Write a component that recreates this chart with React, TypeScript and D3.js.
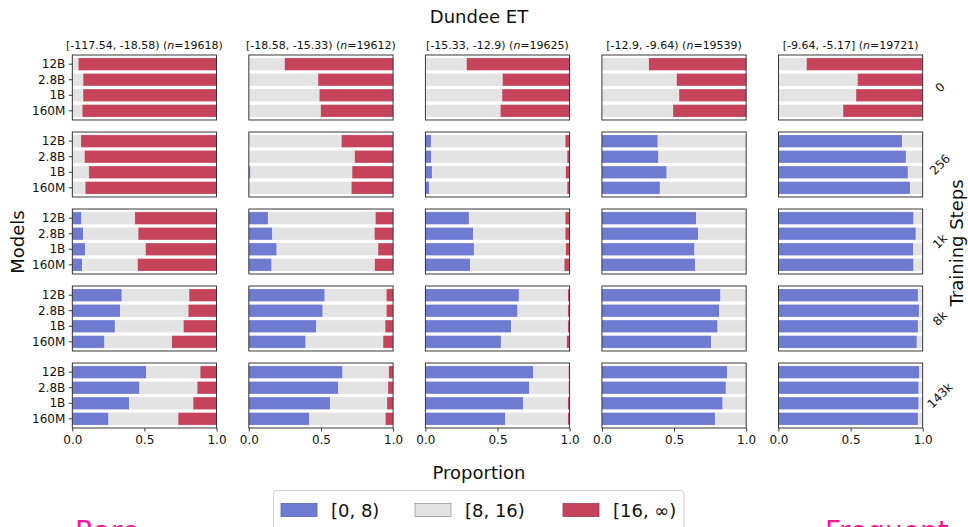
import * as d3 from "d3";
import { useEffect, useRef } from "react";

// facets: rows = training steps, columns = surprisal bins
const models = ["12B", "2.8B", "1B", "160M"];
const steps = ["0", "256", "1k", "8k", "143k"];
const binRanges = ["[-117.54, -18.58)", "[-18.58, -15.33)", "[-15.33, -12.9)", "[-12.9, -9.64)", "[-9.64, -5.17]"];
const binCounts = [19618, 19612, 19625, 19539, 19721];
const segments = ["[0, 8)", "[8, 16)", "[16, \u221e)"];
const segmentColors = ["#6e7bd0", "#e3e3e3", "#c5445c"];
const segmentEdges = ["#5a66b8", "#9a9a9a", "#a83a4f"];
const xTicks = [0, 0.5, 1];

// share[step][bin][model], models ordered 12B, 2.8B, 1B, 160M
const shareShort = [
  [[0, 0, 0, 0], [0, 0, 0, 0], [0, 0, 0, 0], [0, 0, 0, 0], [0, 0, 0, 0]],
  [[0, 0, 0.007, 0.003], [0, 0.003, 0.012, 0.005], [0.04, 0.042, 0.047, 0.027], [0.388, 0.393, 0.45, 0.403], [0.858, 0.885, 0.898, 0.913]],
  [[0.065, 0.076, 0.09, 0.069], [0.134, 0.164, 0.194, 0.159], [0.303, 0.333, 0.338, 0.311], [0.655, 0.668, 0.643, 0.648], [0.938, 0.953, 0.935, 0.938]],
  [[0.344, 0.333, 0.296, 0.224], [0.527, 0.513, 0.469, 0.395], [0.649, 0.64, 0.595, 0.525], [0.823, 0.815, 0.803, 0.758], [0.968, 0.975, 0.968, 0.96]],
  [[0.513, 0.467, 0.395, 0.252], [0.651, 0.621, 0.564, 0.42], [0.749, 0.721, 0.679, 0.555], [0.87, 0.86, 0.838, 0.785], [0.978, 0.973, 0.973, 0.968]],
];
const shareMid = [
  [[0.042, 0.075, 0.075, 0.069], [0.248, 0.48, 0.489, 0.498], [0.286, 0.535, 0.532, 0.52], [0.325, 0.518, 0.535, 0.493], [0.195, 0.548, 0.538, 0.448]],
  [[0.06, 0.085, 0.108, 0.087], [0.642, 0.731, 0.704, 0.706], [0.93, 0.941, 0.926, 0.956], [0.612, 0.607, 0.55, 0.597], [0.142, 0.115, 0.102, 0.087]],
  [[0.369, 0.381, 0.418, 0.384], [0.744, 0.707, 0.702, 0.714], [0.667, 0.637, 0.635, 0.652], [0.345, 0.332, 0.357, 0.352], [0.062, 0.047, 0.065, 0.062]],
  [[0.466, 0.471, 0.475, 0.466], [0.427, 0.441, 0.476, 0.536], [0.339, 0.348, 0.393, 0.455], [0.177, 0.185, 0.197, 0.242], [0.032, 0.025, 0.032, 0.04]],
  [[0.374, 0.399, 0.443, 0.482], [0.319, 0.344, 0.394, 0.527], [0.244, 0.272, 0.309, 0.433], [0.13, 0.14, 0.162, 0.215], [0.022, 0.027, 0.027, 0.032]],
];
const shareLong = [
  [[0.958, 0.925, 0.925, 0.931], [0.752, 0.52, 0.511, 0.502], [0.714, 0.465, 0.468, 0.48], [0.675, 0.482, 0.465, 0.507], [0.805, 0.452, 0.462, 0.552]],
  [[0.94, 0.915, 0.885, 0.91], [0.358, 0.266, 0.284, 0.289], [0.03, 0.017, 0.027, 0.017], [0, 0, 0, 0], [0, 0, 0, 0]],
  [[0.566, 0.543, 0.492, 0.547], [0.122, 0.129, 0.104, 0.127], [0.03, 0.03, 0.027, 0.037], [0, 0, 0, 0], [0, 0, 0, 0]],
  [[0.19, 0.196, 0.229, 0.31], [0.046, 0.046, 0.055, 0.069], [0.012, 0.012, 0.012, 0.02], [0, 0, 0, 0], [0, 0, 0, 0]],
  [[0.113, 0.134, 0.162, 0.266], [0.03, 0.035, 0.042, 0.053], [0.007, 0.007, 0.012, 0.012], [0, 0, 0, 0], [0, 0, 0, 0]],
];

const App = () => {
  const ref = useRef<SVGSVGElement>(null);

  useEffect(() => {
    const width = 968, height = 527;
    const font = "DejaVu Sans, sans-serif";
    const svg = d3.select(ref.current);
    svg.selectAll("*").remove();
    svg.append("rect").attr("width", width).attr("height", height).attr("fill", "#fff");

    // facet grid
    const col = d3.scaleBand().domain(binRanges).range([72.3, 922.7]).paddingInner(0.183);
    const row = d3.scaleBand().domain(steps).range([55, 428]).paddingInner(0.156);
    const pw = col.bandwidth(), ph = row.bandwidth();

    const x = d3.scaleLinear().domain([0, 1]).range([0, pw]);
    const y = d3.scaleBand().domain(models).range([0, ph]).paddingInner(0.2).paddingOuter(0.19);

    const stack = d3.stack<any>().keys(["short", "mid", "long"]);

    steps.forEach((step, si) => {
      binRanges.forEach((bin, bi) => {
        const g = svg.append("g").attr("transform", `translate(${col(bin)},${row(step)})`);
        const rows = models.map((m, mi) => ({
          model: m,
          short: shareShort[si][bi][mi],
          mid: shareMid[si][bi][mi],
          long: shareLong[si][bi][mi],
        }));
        const layers = stack(rows);
        layers.forEach((layer, li) => {
          g.selectAll(null)
            .data(layer)
            .join("rect")
            .attr("x", (d) => x(d[0]))
            .attr("y", (d) => y(d.data.model)!)
            .attr("width", (d) => Math.max(0, x(d[1]) - x(d[0])))
            .attr("height", y.bandwidth())
            .attr("fill", segmentColors[li])
            .attr("stroke", "#ffffff")
            .attr("stroke-opacity", 0.35)
            .attr("stroke-width", 0.5);
        });

        // frame
        g.append("rect")
          .attr("width", pw)
          .attr("height", ph)
          .attr("fill", "none")
          .attr("stroke", "#222")
          .attr("stroke-width", 0.9);

        if (bi === 0) {
          const ya = g.append("g").call(d3.axisLeft(y).tickSize(3.5).tickPadding(3.5));
          ya.select(".domain").remove();
          ya.selectAll("line").attr("stroke", "#222").attr("stroke-width", 0.9);
          ya.selectAll("text").attr("font-family", font).attr("font-size", 12).attr("fill", "#111");
        }
        if (si === steps.length - 1) {
          const xa = g
            .append("g")
            .attr("transform", `translate(0,${ph})`)
            .call(d3.axisBottom(x).tickValues(xTicks).tickFormat(d3.format(".1f")).tickSize(3.5).tickPadding(3.5));
          xa.select(".domain").remove();
          xa.selectAll("line").attr("stroke", "#222").attr("stroke-width", 0.9);
          xa.selectAll("text").attr("font-family", font).attr("font-size", 12).attr("fill", "#111");
        }
        if (si === 0) {
          const t = g
            .append("text")
            .attr("x", pw / 2)
            .attr("y", -6)
            .attr("text-anchor", "middle")
            .attr("font-family", font)
            .attr("font-size", 11)
            .attr("fill", "#111");
          t.append("tspan").text(`${bin} (`);
          t.append("tspan").attr("font-style", "italic").text("n");
          t.append("tspan").text(`=${binCounts[bi]})`);
        }
      });

      // row label on the right, rotated
      svg
        .append("text")
        .attr("transform", `translate(940,${row(step)! + ph / 2}) rotate(-45)`)
        .attr("text-anchor", "middle")
        .attr("dominant-baseline", "central")
        .attr("font-family", font)
        .attr("font-size", 12)
        .attr("fill", "#111")
        .text(step);
    });

    const label = (txt: string, tx: number, ty: number, rot: number, size = 18) =>
      svg
        .append("text")
        .attr("transform", `translate(${tx},${ty}) rotate(${rot})`)
        .attr("text-anchor", "middle")
        .attr("font-family", font)
        .attr("font-size", size)
        .attr("fill", "#111")
        .text(txt);

    label("Dundee ET", 479, 23, 0);
    label("Proportion", 479, 479, 0);
    label("Models", 24, 242, -90);
    label("Training Steps", 963, 243, -90);

    // legend
    const lg = svg.append("g");
    lg.append("rect")
      .attr("x", 273.5)
      .attr("y", 490.5)
      .attr("width", 410.5)
      .attr("height", 42)
      .attr("rx", 3)
      .attr("fill", "#fff")
      .attr("stroke", "#d0d0d0");
    const entryX = [281, 415, 563];
    segments.forEach((s, i) => {
      lg.append("rect")
        .attr("x", entryX[i])
        .attr("y", 503.5)
        .attr("width", 36)
        .attr("height", 13)
        .attr("fill", segmentColors[i])
        .attr("stroke", segmentEdges[i])
        .attr("stroke-width", 0.8);
      lg.append("text")
        .attr("x", entryX[i] + 50)
        .attr("y", 516.5)
        .attr("font-family", font)
        .attr("font-size", 18)
        .attr("fill", "#111")
        .text(s);
    });

    // rarity annotations (cut off at the bottom, as in the source figure)
    svg.append("text").attr("x", 75).attr("y", 541).attr("font-family", font).attr("font-size", 28).attr("fill", "#ff1493").text("Rare");
    svg.append("text").attr("x", 825).attr("y", 541).attr("font-family", font).attr("font-size", 28).attr("fill", "#ff1493").text("Frequent");
  }, []);

  return (
    <svg
      ref={ref}
      width={968}
      height={527}
      style={{ position: "absolute", left: 0, top: 0, display: "block" }}
    />
  );
};

export default App;
